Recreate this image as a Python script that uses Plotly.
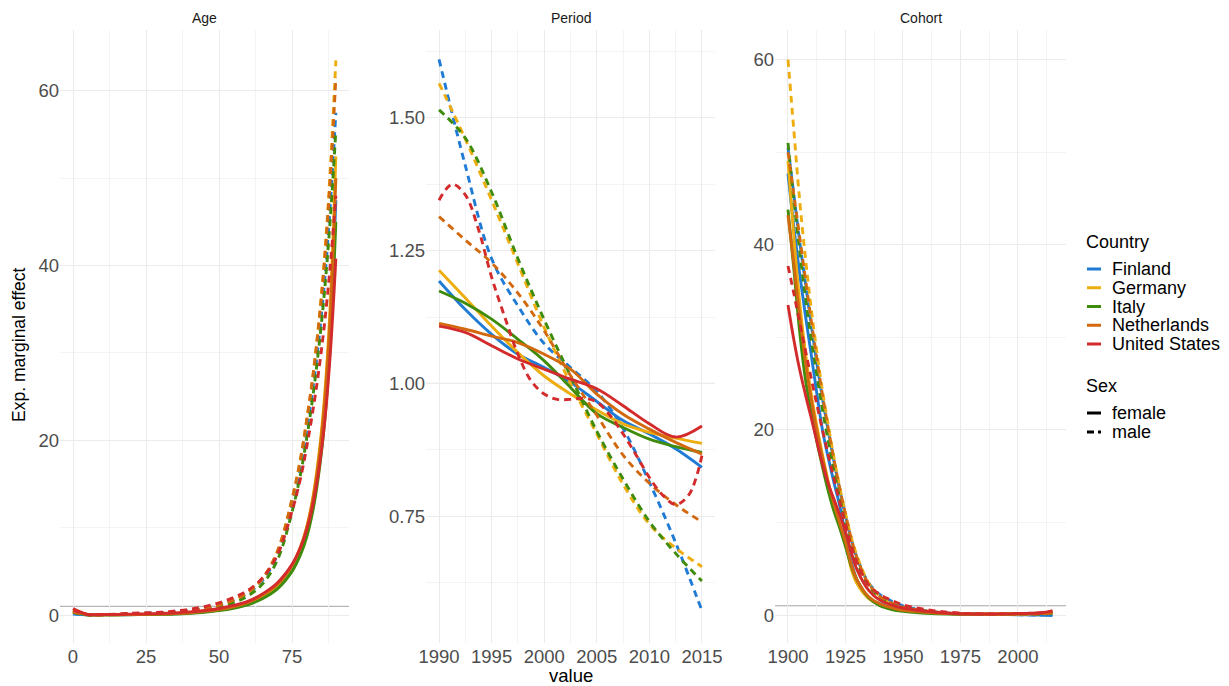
import plotly.graph_objects as go

W, H = 1229, 686

countries = ["Finland", "Germany", "Italy", "Netherlands", "United States"]
colors = ["#1F7BD4", "#EEAD0E", "#3F8C0C", "#D2690F", "#D32B2B"]
sexes = ["female", "male"]
panels = ["Age", "Period", "Cohort"]

# ---------------- Age panel ----------------
ages = [0, 5, 10, 15, 20, 25, 30, 35, 40, 45, 50, 55, 60, 65, 70, 75, 78, 80, 82, 84, 86, 88, 90]
age_fin_f = [0.15, 0.03, 0.02, 0.03, 0.05, 0.07, 0.1, 0.15, 0.24, 0.38, 0.56, 0.85, 1.3, 2.05, 3.2, 5.3, 7.4, 9.4, 12.3, 16.6, 22.7, 32.3, 47.5]
age_ger_f = [0.5, 0.06, 0.03, 0.04, 0.06, 0.08, 0.11, 0.16, 0.26, 0.42, 0.62, 0.92, 1.4, 2.2, 3.4, 5.6, 7.8, 10.0, 13.2, 17.8, 24.5, 35.0, 52.5]
age_ita_f = [0.4, 0.03, 0.02, 0.03, 0.04, 0.06, 0.08, 0.12, 0.2, 0.32, 0.5, 0.78, 1.2, 1.9, 3.0, 5.0, 7.0, 8.9, 11.7, 15.8, 21.6, 30.5, 45.0]
age_nld_f = [0.45, 0.05, 0.03, 0.04, 0.06, 0.08, 0.11, 0.16, 0.26, 0.42, 0.64, 0.95, 1.45, 2.3, 3.5, 5.7, 7.9, 10.0, 13.0, 17.4, 23.8, 33.8, 50.0]
age_usa_f = [0.75, 0.08, 0.05, 0.07, 0.1, 0.13, 0.18, 0.25, 0.36, 0.52, 0.75, 1.1, 1.6, 2.45, 3.7, 5.8, 7.8, 9.7, 12.4, 16.2, 21.5, 29.5, 40.8]
age_fin_m = [0.15, 0.03, 0.03, 0.08, 0.16, 0.21, 0.26, 0.36, 0.51, 0.76, 1.15, 1.7, 2.55, 4.0, 6.9, 12.5, 17.0, 21.0, 25.6, 31.0, 37.7, 46.5, 57.5]
age_ger_m = [0.3, 0.04, 0.03, 0.07, 0.13, 0.16, 0.21, 0.31, 0.47, 0.72, 1.12, 1.7, 2.6, 4.2, 7.3, 13.2, 18.0, 22.2, 27.0, 33.0, 40.5, 50.5, 63.5]
age_ita_m = [0.3, 0.03, 0.03, 0.06, 0.11, 0.13, 0.16, 0.23, 0.36, 0.56, 0.9, 1.4, 2.2, 3.6, 6.3, 11.8, 16.3, 20.2, 24.7, 30.1, 36.6, 44.9, 55.5]
age_nld_m = [0.35, 0.05, 0.03, 0.07, 0.13, 0.15, 0.2, 0.3, 0.46, 0.72, 1.14, 1.72, 2.65, 4.25, 7.3, 13.3, 18.1, 22.3, 27.0, 32.8, 40.0, 49.5, 61.5]
age_usa_m = [0.6, 0.06, 0.05, 0.11, 0.21, 0.26, 0.32, 0.46, 0.66, 0.96, 1.4, 2.0, 2.85, 4.3, 6.9, 11.9, 15.8, 19.2, 23.1, 27.6, 33.0, 39.7, 48.0]

# ---------------- Period panel ----------------
years = [1990, 1992.5, 1995, 1997.5, 2000, 2002.5, 2005, 2007.5, 2010, 2012.5, 2015]
years_fine = [1990, 1991.25, 1992.5, 1993.75, 1995, 1996.25, 1997.5, 1998.75, 2000, 2001.25, 2002.5,
              2003.75, 2005, 2006.25, 2007.5, 2008.75, 2010, 2011.25, 2012.5, 2013.75, 2015]
per_fin_f = [1.193, 1.139, 1.0925, 1.055, 1.03, 1.002, 0.966, 0.93, 0.905, 0.877, 0.842]
per_ger_f = [1.213, 1.161, 1.108, 1.058, 1.014, 0.98, 0.95, 0.924, 0.908, 0.897, 0.887]
per_ita_f = [1.174, 1.151, 1.121, 1.083, 1.0425, 0.9925, 0.943, 0.917, 0.895, 0.881, 0.87]
per_nld_f = [1.113, 1.102, 1.089, 1.077, 1.055, 1.027, 0.98, 0.942, 0.914, 0.889, 0.867]
per_usa_f = [1.108, 1.096, 1.071, 1.046, 1.027, 1.008, 0.99, 0.958, 0.924, 0.899, 0.92]
per_fin_m = [1.61, 1.41, 1.235, 1.146, 1.075, 1.03, 0.985, 0.915, 0.814, 0.70, 0.572]
per_ger_m = [1.565, 1.46, 1.345, 1.225, 1.105, 1.0, 0.905, 0.81, 0.735, 0.69, 0.655]
per_ita_m = [1.515, 1.462, 1.36, 1.235, 1.12, 1.014, 0.91, 0.82, 0.74, 0.68, 0.628]
per_nld_m = [1.314, 1.27, 1.227, 1.17, 1.099, 1.015, 0.94, 0.865, 0.812, 0.772, 0.739]
per_usa_m = [1.345, 1.375, 1.355, 1.29, 1.20, 1.125, 1.055, 1.005, 0.98, 0.97, 0.97,
             0.972, 0.965, 0.94, 0.905, 0.865, 0.823, 0.79, 0.772, 0.79, 0.864]

# ---------------- Cohort panel ----------------
cohorts = [1900, 1902.5, 1905, 1907.5, 1910, 1912.5, 1915, 1917.5, 1920, 1922.5, 1925, 1927.5,
           1930, 1935, 1940, 1945, 1950, 1960, 1970, 1980, 1990, 2000, 2010, 2015]
coh_fin_f = [47.7, 42, 37, 32.5, 28.3, 24, 20, 17, 14.3, 11.8, 8.7, 5.8, 3.8, 1.9, 1.2, 0.8, 0.55, 0.3, 0.15, 0.08, 0.05, 0.03, 0.0, -0.05]
coh_ger_f = [49.1, 41, 34, 28.5, 24, 20.5, 17.3, 14.4, 11.8, 9.6, 7.8, 5.0, 3.4, 1.8, 1.1, 0.7, 0.5, 0.3, 0.15, 0.1, 0.1, 0.12, 0.15, 0.2]
coh_ita_f = [43.8, 37.5, 30.8, 25.6, 22, 18.8, 16, 13.4, 11.2, 9.4, 7.4, 5.3, 3.8, 1.9, 1.0, 0.6, 0.4, 0.2, 0.1, 0.08, 0.1, 0.15, 0.2, 0.25]
coh_nld_f = [43.2, 38, 32.5, 27.5, 23.5, 20, 17, 14.3, 12, 9.9, 7.9, 5.5, 3.8, 2.0, 1.2, 0.8, 0.5, 0.3, 0.15, 0.1, 0.1, 0.12, 0.18, 0.25]
coh_usa_f = [33.5, 29.8, 26.6, 23.9, 21.4, 18.8, 16.3, 14.2, 12.5, 10.8, 9.0, 6.8, 4.9, 2.7, 1.6, 1.1, 0.75, 0.4, 0.2, 0.12, 0.12, 0.15, 0.25, 0.45]
coh_fin_m = [50.5, 45.5, 40.5, 36, 31.5, 27.3, 23.4, 19.9, 16.6, 13.5, 10.7, 8.2, 6.2, 3.5, 2.2, 1.5, 1.0, 0.45, 0.2, 0.1, 0.07, 0.05, 0.0, 0.05]
coh_ger_m = [60, 52.5, 45, 38.8, 33.3, 28.5, 24.2, 20.5, 17, 13.8, 11, 8.4, 6.4, 3.5, 2.0, 1.2, 0.8, 0.4, 0.2, 0.12, 0.1, 0.1, 0.15, 0.25]
coh_ita_m = [51, 45, 39.5, 34.5, 30, 26, 22.2, 18.8, 15.6, 12.7, 10, 7.6, 5.7, 3.2, 1.9, 1.2, 0.8, 0.4, 0.2, 0.12, 0.1, 0.1, 0.12, 0.2]
coh_nld_m = [50, 45.5, 41, 36.5, 32, 27.8, 23.8, 20.2, 16.8, 13.7, 10.9, 8.3, 6.2, 3.4, 2.0, 1.3, 0.85, 0.45, 0.2, 0.1, 0.08, 0.1, 0.12, 0.2]
coh_usa_m = [37.7, 34.8, 31.7, 28.7, 25.7, 22.8, 20, 17.3, 14.7, 12.2, 9.8, 7.5, 5.7, 3.3, 2.2, 1.6, 1.1, 0.6, 0.3, 0.15, 0.12, 0.15, 0.25, 0.45]

series = {
    "Age": {
        ("Finland", "female"): (ages, age_fin_f), ("Finland", "male"): (ages, age_fin_m),
        ("Germany", "female"): (ages, age_ger_f), ("Germany", "male"): (ages, age_ger_m),
        ("Italy", "female"): (ages, age_ita_f), ("Italy", "male"): (ages, age_ita_m),
        ("Netherlands", "female"): (ages, age_nld_f), ("Netherlands", "male"): (ages, age_nld_m),
        ("United States", "female"): (ages, age_usa_f), ("United States", "male"): (ages, age_usa_m),
    },
    "Period": {
        ("Finland", "female"): (years, per_fin_f), ("Finland", "male"): (years, per_fin_m),
        ("Germany", "female"): (years, per_ger_f), ("Germany", "male"): (years, per_ger_m),
        ("Italy", "female"): (years, per_ita_f), ("Italy", "male"): (years, per_ita_m),
        ("Netherlands", "female"): (years, per_nld_f), ("Netherlands", "male"): (years, per_nld_m),
        ("United States", "female"): (years, per_usa_f), ("United States", "male"): (years_fine, per_usa_m),
    },
    "Cohort": {
        ("Finland", "female"): (cohorts, coh_fin_f), ("Finland", "male"): (cohorts, coh_fin_m),
        ("Germany", "female"): (cohorts, coh_ger_f), ("Germany", "male"): (cohorts, coh_ger_m),
        ("Italy", "female"): (cohorts, coh_ita_f), ("Italy", "male"): (cohorts, coh_ita_m),
        ("Netherlands", "female"): (cohorts, coh_nld_f), ("Netherlands", "male"): (cohorts, coh_nld_m),
        ("United States", "female"): (cohorts, coh_usa_f), ("United States", "male"): (cohorts, coh_usa_m),
    },
}

FONT = "Liberation Sans, Arial, Helvetica, sans-serif"
DASH = "7px,5px"
LW = 2.9

fig = go.Figure()
axis_ids = ["", "2", "3"]
for p, panel in enumerate(panels):
    for c, country in enumerate(countries):
        for sex in sexes:
            xs, ys = series[panel][(country, sex)]
            fig.add_trace(go.Scatter(
                x=xs, y=ys, mode="lines",
                line=dict(color=colors[c], width=LW, shape="spline", smoothing=1.0,
                          dash="solid" if sex == "female" else DASH),
                xaxis="x" + axis_ids[p], yaxis="y" + axis_ids[p],
                showlegend=False, hoverinfo="skip",
            ))

ydom = [1 - 643 / H, 1 - 30 / H]
xdoms = [[60 / W, 349 / W], [426 / W, 715 / W], [775 / W, 1066 / W]]
xranges = [[-4.45, 94.5], [1988.76, 2016.24], [1894.35, 2020.9]]
yranges = [[-3.2, 66.97], [0.5113, 1.6654], [-3.02, 63.2]]
xticks = [(0, 25, 12.5), (1990, 5, 2.5), (1900, 25, 12.5)]
yticks = [(0, 20, 10, None), (0, 0.25, 0.125, ".2f"), (0, 20, 10, None)]

grid_major = "#EBEBEB"
grid_minor = "#F4F4F4"
tickfont = dict(family=FONT, size=18.5, color="#4D4D4D")

layout = dict(
    width=W, height=H, autosize=False,
    margin=dict(l=0, r=0, t=0, b=0),
    paper_bgcolor="white", plot_bgcolor="white",
    showlegend=False,
    font=dict(family=FONT),
)
for p in range(3):
    t0, dt, mdt = xticks[p]
    layout["xaxis" + axis_ids[p]] = dict(
        domain=xdoms[p], range=xranges[p], anchor="y" + axis_ids[p],
        tick0=t0, dtick=dt, showgrid=True, gridcolor=grid_major, gridwidth=1.1,
        minor=dict(tick0=t0, dtick=mdt, showgrid=True, gridcolor=grid_minor, gridwidth=0.8),
        zeroline=False, showline=False, ticks="", tickfont=tickfont, automargin=False,
    )
    y0, ydt, ymdt, fmt = yticks[p]
    ya = dict(
        domain=ydom, range=yranges[p], anchor="x" + axis_ids[p],
        tick0=y0, dtick=ydt, showgrid=True, gridcolor=grid_major, gridwidth=1.1,
        minor=dict(tick0=y0, dtick=ymdt, showgrid=True, gridcolor=grid_minor, gridwidth=0.8),
        zeroline=False, showline=False, ticks="", tickfont=tickfont, automargin=False,
    )
    if fmt:
        ya["tickformat"] = fmt
    layout["yaxis" + axis_ids[p]] = ya
fig.update_layout(**layout)

# reference line at 1 in every panel
for p in range(3):
    fig.add_shape(type="line", xref="x" + axis_ids[p] + " domain", x0=0, x1=1,
                  yref="y" + axis_ids[p], y0=1, y1=1,
                  line=dict(color="#A3A3A3", width=1), layer="below")

# strip labels
for p, panel in enumerate(panels):
    fig.add_annotation(text=panel, xref="x" + axis_ids[p] + " domain", x=0.5,
                       yref="paper", y=1 - 18 / H, yanchor="middle", showarrow=False,
                       font=dict(family=FONT, size=14, color="#1A1A1A"))

# axis titles
fig.add_annotation(text="value", xref="paper", x=570.5 / W, yref="paper", y=0,
                   yanchor="bottom", yshift=-2, showarrow=False,
                   font=dict(family=FONT, size=18.5, color="black"))
fig.add_annotation(text="Exp. marginal effect", xref="paper", x=19 / W, xanchor="center",
                   yref="paper", y=1 - 345 / H, yanchor="middle", textangle=-90, showarrow=False,
                   font=dict(family=FONT, size=17.5, color="black"))

# legend (guide)
leg_font = dict(family=FONT, size=18, color="black")
def paper_y(py):
    return 1 - py / H

fig.add_annotation(text="Country", xref="paper", x=1084 / W, xanchor="left", yref="paper",
                   y=paper_y(242), yanchor="middle", showarrow=False, font=leg_font)
for i, (name, col) in enumerate(zip(countries, colors)):
    yy = 269 + i * 18.75
    fig.add_shape(type="line", xref="paper", yref="paper", x0=1087 / W, x1=1101 / W,
                  y0=paper_y(yy), y1=paper_y(yy), line=dict(color=col, width=3))
    fig.add_annotation(text=name, xref="paper", x=1110 / W, xanchor="left", yref="paper",
                       y=paper_y(yy), yanchor="middle", showarrow=False, font=leg_font)

fig.add_annotation(text="Sex", xref="paper", x=1084 / W, xanchor="left", yref="paper",
                   y=paper_y(386), yanchor="middle", showarrow=False, font=leg_font)
for i, sex in enumerate(sexes):
    yy = 413 + i * 19
    fig.add_shape(type="line", xref="paper", yref="paper", x0=1087 / W, x1=1101 / W,
                  y0=paper_y(yy), y1=paper_y(yy),
                  line=dict(color="black", width=3, dash="solid" if sex == "female" else "7px,4px"))
    fig.add_annotation(text=sex, xref="paper", x=1110 / W, xanchor="left", yref="paper",
                       y=paper_y(yy), yanchor="middle", showarrow=False, font=leg_font)

fig.write_html("out.html", config={"displayModeBar": False})
